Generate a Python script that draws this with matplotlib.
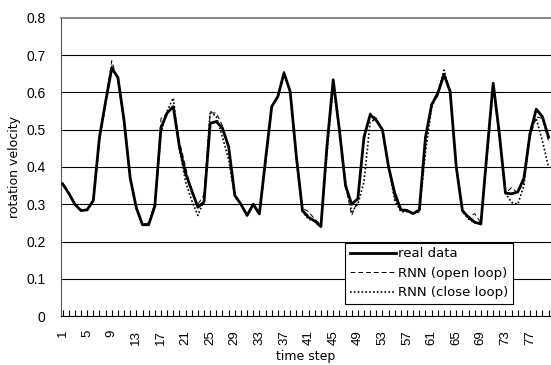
import matplotlib
matplotlib.use("Agg")
import matplotlib.pyplot as plt
from matplotlib.ticker import FixedLocator, MultipleLocator

plt.rcParams['font.family'] = ['Liberation Sans', 'DejaVu Sans']

steps = list(range(1, 81))

real_data = [
    0.355, 0.33, 0.30, 0.283, 0.285, 0.31, 0.48, 0.575, 0.665, 0.64,
    0.525, 0.37, 0.29, 0.245, 0.245, 0.295, 0.505, 0.545, 0.562, 0.454,
    0.383, 0.337, 0.292, 0.306, 0.517, 0.522, 0.504, 0.454, 0.324, 0.30,
    0.27, 0.30, 0.274, 0.42, 0.562, 0.589, 0.652, 0.603, 0.43, 0.283,
    0.265, 0.255, 0.24, 0.46, 0.634, 0.50, 0.35, 0.30, 0.315, 0.48,
    0.54, 0.525, 0.50, 0.40, 0.33, 0.285, 0.283, 0.275, 0.285, 0.48,
    0.567, 0.598, 0.648, 0.603, 0.40, 0.283, 0.265, 0.252, 0.247, 0.44,
    0.625, 0.49, 0.33, 0.328, 0.333, 0.37, 0.49, 0.555, 0.535, 0.48,
]

open_loop = [
    0.355, 0.33, 0.30, 0.285, 0.285, 0.31, 0.47, 0.58, 0.685, 0.63,
    0.52, 0.37, 0.29, 0.245, 0.25, 0.29, 0.53, 0.545, 0.565, 0.47,
    0.40, 0.33, 0.30, 0.325, 0.545, 0.545, 0.51, 0.45, 0.33, 0.30,
    0.275, 0.30, 0.28, 0.42, 0.56, 0.59, 0.65, 0.60, 0.43, 0.29,
    0.28, 0.26, 0.245, 0.45, 0.62, 0.51, 0.35, 0.27, 0.31, 0.47,
    0.545, 0.53, 0.50, 0.40, 0.315, 0.29, 0.285, 0.275, 0.28, 0.47,
    0.57, 0.59, 0.65, 0.60, 0.40, 0.28, 0.265, 0.275, 0.25, 0.43,
    0.62, 0.49, 0.33, 0.345, 0.33, 0.36, 0.48, 0.535, 0.53, 0.47,
]

close_loop = [
    0.355, 0.33, 0.30, 0.285, 0.285, 0.31, 0.47, 0.57, 0.67, 0.64,
    0.52, 0.37, 0.29, 0.245, 0.25, 0.30, 0.49, 0.55, 0.585, 0.45,
    0.36, 0.31, 0.27, 0.31, 0.55, 0.535, 0.48, 0.42, 0.32, 0.30,
    0.27, 0.30, 0.275, 0.41, 0.56, 0.59, 0.655, 0.60, 0.42, 0.28,
    0.26, 0.255, 0.24, 0.44, 0.62, 0.50, 0.36, 0.28, 0.30, 0.36,
    0.52, 0.53, 0.50, 0.40, 0.31, 0.28, 0.28, 0.275, 0.28, 0.44,
    0.56, 0.60, 0.66, 0.60, 0.40, 0.28, 0.26, 0.25, 0.25, 0.43,
    0.62, 0.48, 0.33, 0.305, 0.30, 0.35, 0.50, 0.53, 0.47, 0.40,
]

y_ticks = [0, 0.1, 0.2, 0.3, 0.4, 0.5, 0.6, 0.7, 0.8]
y_labels = ["0", "0.1", "0.2", "0.3", "0.4", "0.5", "0.6", "0.7", "0.8"]
x_labels = list(range(1, 81, 4))


def main():
    fig = plt.figure(figsize=(5.51, 3.65), dpi=100)
    ax = fig.add_axes([0.1107, 0.134, 0.8893, 0.817])

    for y in y_ticks[1:-1]:
        ax.axhline(y, color='black', lw=0.8, zorder=1)

    ax.plot(steps, real_data, color='black', lw=2.0, label='real data', zorder=3)
    ax.plot(steps, open_loop, color='black', lw=0.7, dashes=(5, 3),
            label='RNN (open loop)', zorder=4)
    ax.plot(steps, close_loop, color='black', lw=1.2, dashes=(1, 1.3),
            label='RNN (close loop)', zorder=4)

    ax.set_xlim(0.75, 80.4)
    ax.set_ylim(0, 0.8)

    ax.set_yticks(y_ticks)
    ax.set_yticklabels(y_labels, fontsize=10)
    ax.tick_params(axis='y', length=0, pad=11)

    ax.xaxis.set_major_locator(FixedLocator(x_labels))
    ax.set_xticklabels([str(v) for v in x_labels], rotation=90, fontsize=9.5)
    ax.xaxis.set_minor_locator(MultipleLocator(1))
    ax.tick_params(axis='x', which='both', direction='in', length=4, width=0.8, pad=10)

    ax.spines['left'].set_color('#555555')
    ax.spines['top'].set_color('#777777')
    ax.spines['top'].set_linewidth(1.2)
    ax.spines['right'].set_visible(False)
    ax.spines['bottom'].set_color('black')

    ax.set_ylabel("rotation velocity", fontsize=9, family='DejaVu Sans', labelpad=4)
    ax.set_xlabel("time step", fontsize=9, family='DejaVu Sans', labelpad=4)

    leg = ax.legend(loc='lower left', bbox_to_anchor=(0.626, 0.167),
                    bbox_transform=fig.transFigure,
                    prop={'family': 'DejaVu Sans', 'size': 9.5},
                    frameon=True, fancybox=False, framealpha=1,
                    edgecolor='black', handlelength=3.5, handletextpad=0.15,
                    borderpad=0.35, labelspacing=0.5, borderaxespad=0)
    leg.get_frame().set_linewidth(0.8)

    fig.savefig("out.png", dpi=100)


if __name__ == '__main__':
    main()
